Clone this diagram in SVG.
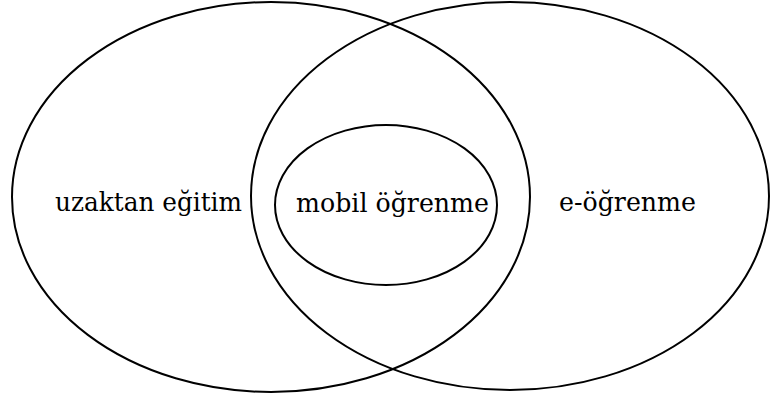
<svg xmlns="http://www.w3.org/2000/svg" width="771" height="394" viewBox="0 0 771 394">
<style>
.e{fill:none;stroke:#000;stroke-width:2}
.t{font-family:'DejaVu Serif','Liberation Serif',serif;font-size:26px;fill:#000}
</style>
<rect width="771" height="394" fill="#fff"/>
<g id="uzaktan"><ellipse class="e" cx="271" cy="197" rx="259" ry="195"/><text class="t" x="55" y="211" textLength="187" lengthAdjust="spacingAndGlyphs">uzaktan eğitim</text></g>
<g id="eogrenme"><ellipse class="e" cx="510" cy="196" rx="259" ry="194"/><text class="t" x="559" y="211" textLength="137" lengthAdjust="spacingAndGlyphs">e-öğrenme</text></g>
<g id="mobil"><ellipse class="e" cx="386" cy="205" rx="111" ry="80"/><text class="t" x="296" y="212" textLength="193" lengthAdjust="spacingAndGlyphs">mobil öğrenme</text></g>
<g id="connectors"></g>
</svg>
